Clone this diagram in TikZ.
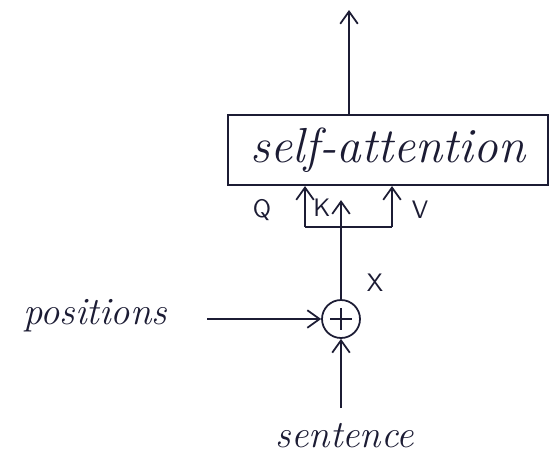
\documentclass[tikz,border=0pt]{standalone}
\usepackage{tikz}
\usetikzlibrary{arrows.meta,positioning,calc}
\definecolor{ink}{RGB}{28,28,52}

\begin{document}
\begin{tikzpicture}[x=0.02cm,y=-0.02cm,line width=1pt,draw=ink,
  arr/.style={-{Straight Barb[length=7pt,width=10pt]}},
  hand/.style={font=\itshape\fontsize{22}{26}\selectfont,text=ink},
  lbl/.style={font=\sffamily\Large,text=ink}]
\useasboundingbox (0,0) rectangle (554,460);
% block and adder
\node[draw,line width=1.2pt,minimum width=6.4cm,minimum height=1.4cm,hand,font=\itshape\fontsize{28}{32}\selectfont] (attn) at (388,150) {self-attention};
\node[draw,circle,minimum size=0.76cm,inner sep=0pt] (plus) at (341,319) {};
\draw ($(plus.center)+(0,-11)$) -- ($(plus.center)+(0,11)$);
\draw ($(plus.center)+(-11,0)$) -- ($(plus.center)+(11,0)$);
% inputs
\node[hand] (pos) at (95,316) {positions};
\node[hand] (sent) at (345,436) {sentence};
\coordinate (posstart) at (207,319);
\coordinate (sentstart) at (341,408);
\draw[arr] (posstart) -- (plus.west);
\draw[arr] (sentstart) -- (plus.south);
% q, k, v
\coordinate (qfoot) at (305,227);
\coordinate (vfoot) at (392,227);
\draw (qfoot) -- (vfoot);
\draw[arr] (qfoot) -- (qfoot |- attn.south);
\draw[arr] (vfoot) -- (vfoot |- attn.south);
\draw[arr,shorten >=8] (plus.north) -- (plus.north |- attn.south);
% output
\coordinate (out) at (349,10);
\draw[arr] (attn.north -| out) -- (out);
% labels
\node[lbl] (q) at (262,210) {Q};
\node[lbl] (k) at (322,208) {K};
\node[lbl] (v) at (420,210) {V};
\node[lbl] (x) at (375,283) {X};
\end{tikzpicture}
\end{document}
